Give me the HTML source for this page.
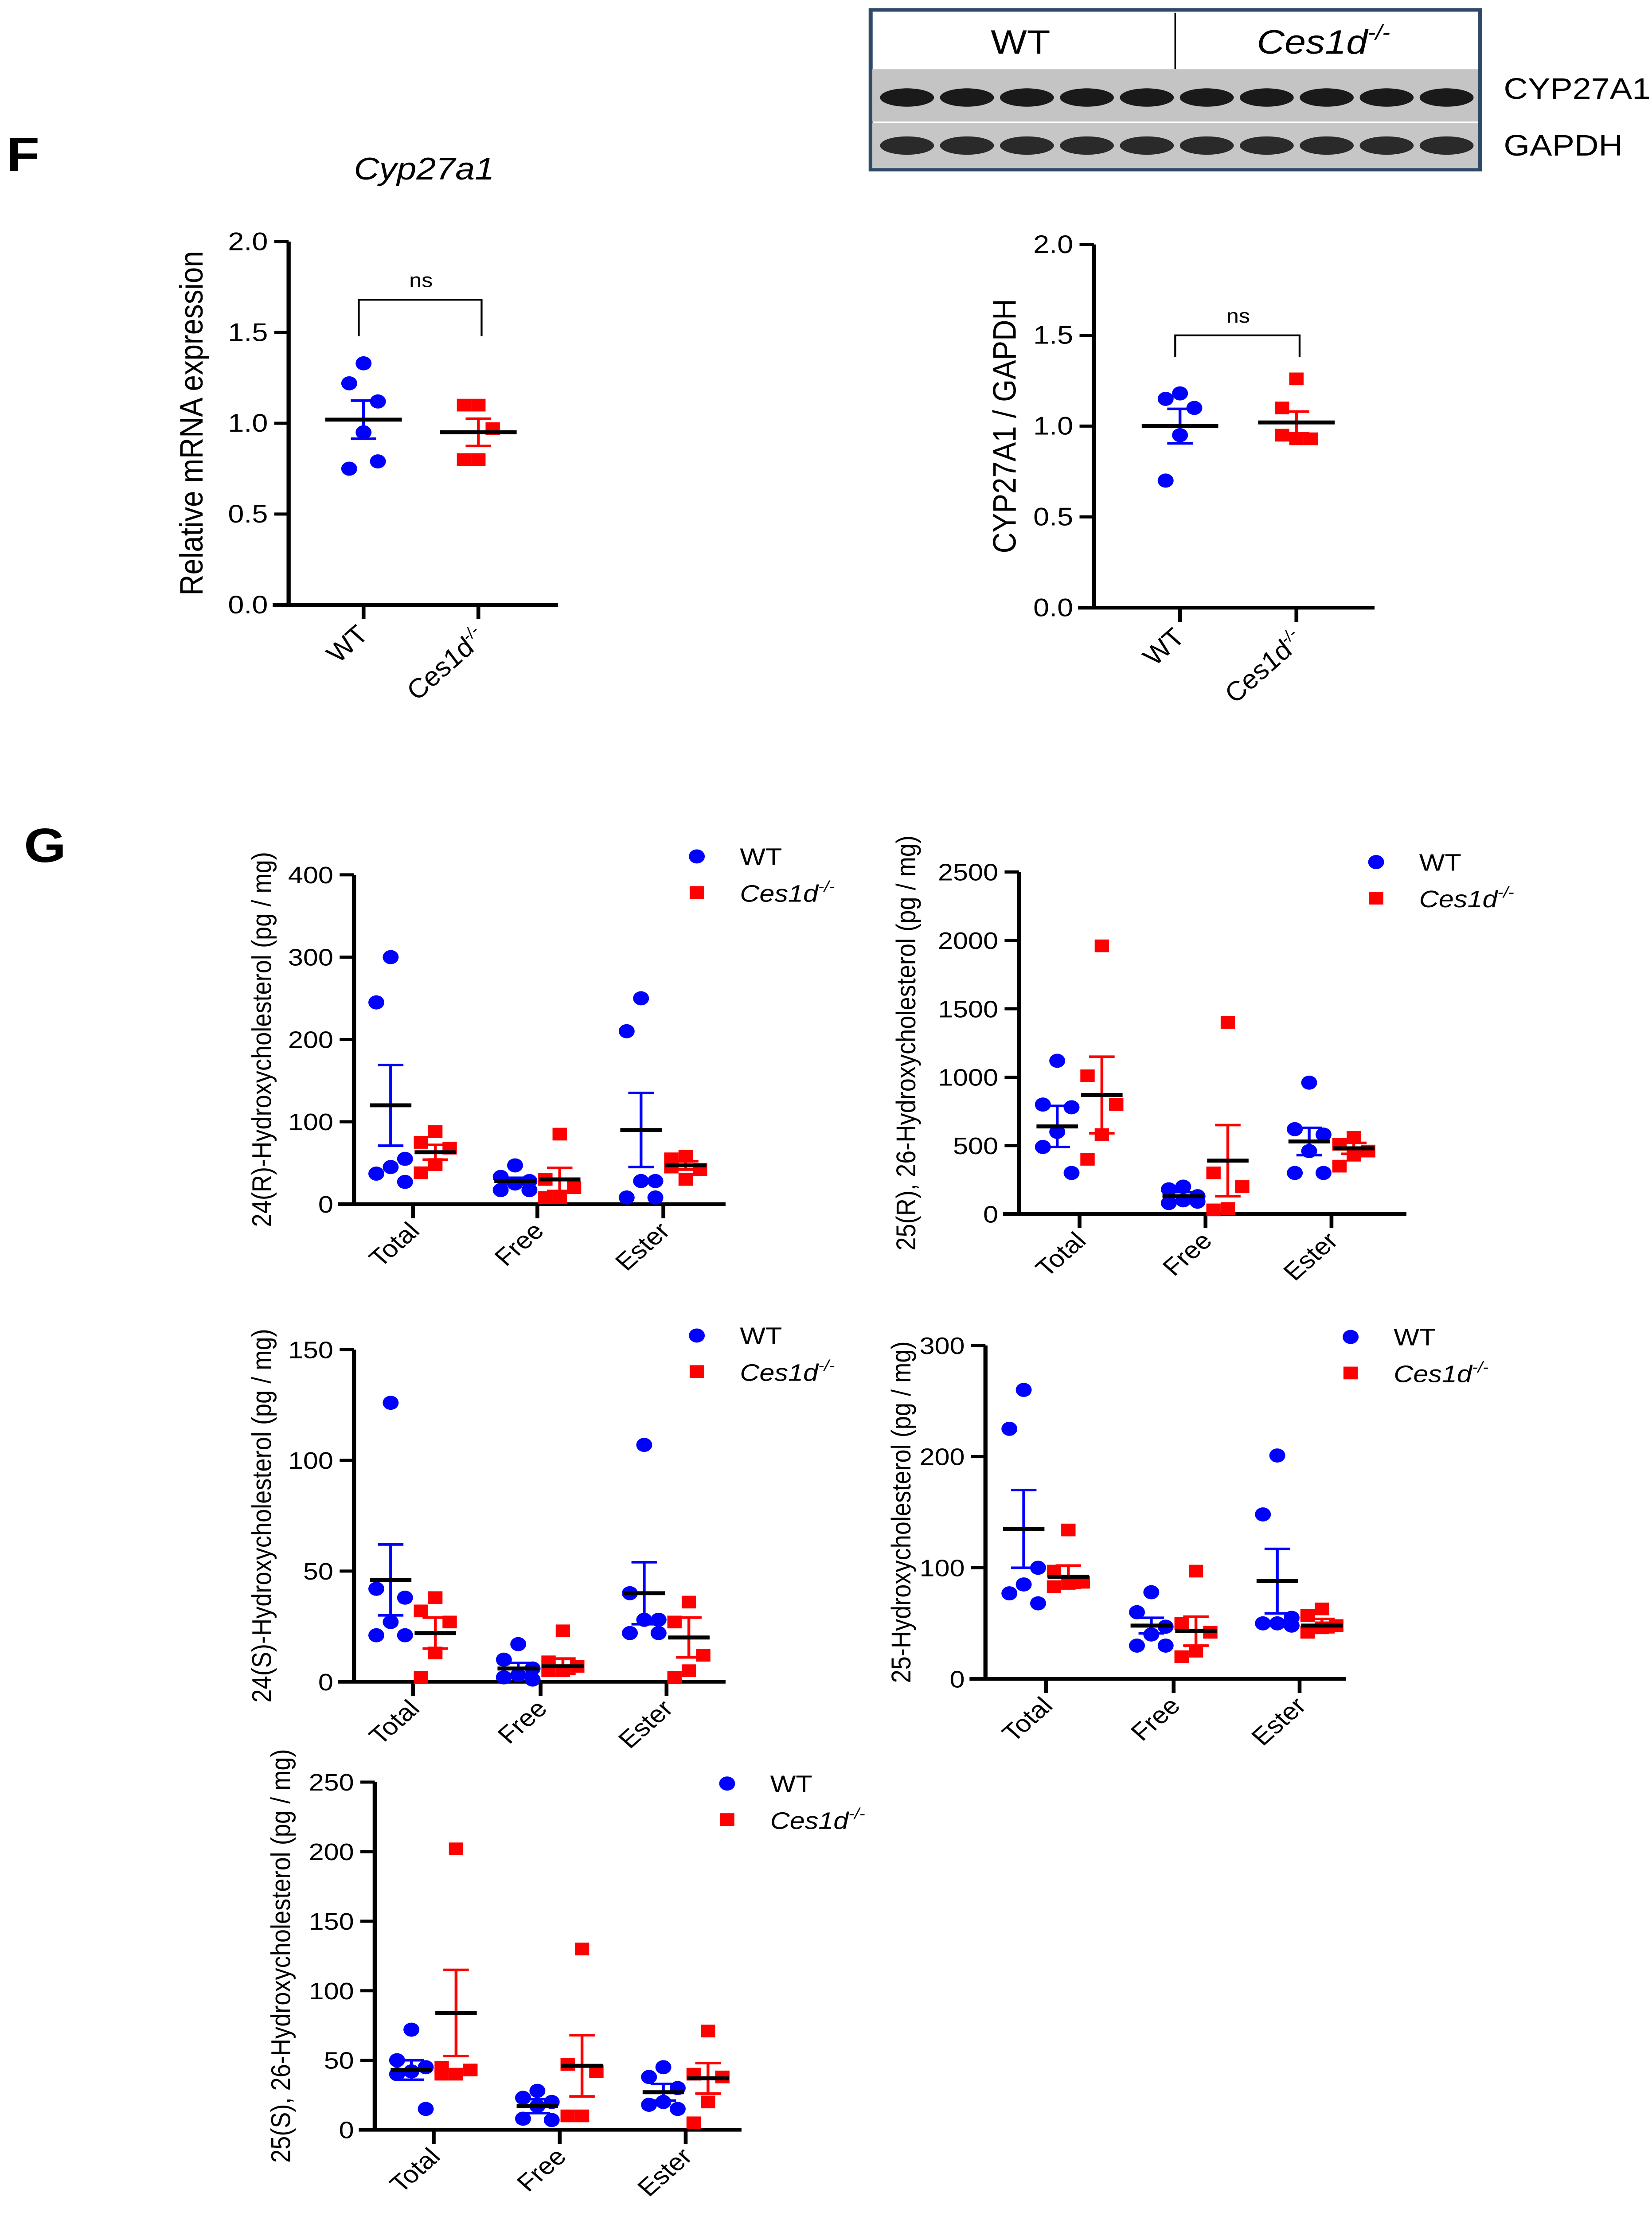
<!DOCTYPE html>
<html><head><meta charset="utf-8"><style>
html,body{margin:0;padding:0;background:#fff;width:100vw;height:100vh;overflow:hidden;}
svg{display:block;width:100vw;height:100vh;}
text{font-family:"Liberation Sans",Arial,sans-serif;}
</style></head><body>
<svg id="fig" viewBox="0 0 1036 1568" preserveAspectRatio="none" xmlns="http://www.w3.org/2000/svg">
<rect width="1036" height="1568" fill="#fff"/>
<text x="4" y="121" font-size="34" font-weight="bold">F</text>
<text x="15" y="610" font-size="34" font-weight="bold">G</text>
<text x="266" y="127" font-size="22" font-style="italic" text-anchor="middle">Cyp27a1</text>
<g id="blot"></g>
</svg>
<script>
// ---------- data ----------
const groups2 = ["WT","Ces1d-/-"];
const cats3 = ["Total","Free","Ester"];
const f1WT = [1.33,1.22,1.12,0.95,0.75,0.79];
const f1KO = [1.10,1.10,0.97,0.80,0.80];
const f1Mean = [1.02,0.95];
const f1Sem = [0.105,0.075];
const f2WT = [1.18,1.15,1.10,0.95,0.70];
const f2KO = [1.26,1.10,0.93,0.93,0.95];
const f2Mean = [1.00,1.02];
const f2Sem = [0.095,0.06];
const fTicks = [0.0,0.5,1.0,1.5,2.0];

const g1WT = [[300,245,55,45,37,27],[47,33,28,25,17,17],[250,210,28,28,8,8]];
const g1KO = [[88,75,68,48,38],[85,30,20,8,8],[58,55,42,30,45]];
const g1Mean = [[120,63],[28,30],[90,47]];
const g1Sem = [[49,9],[4,14],[45,5]];
const g1Ticks = [0,100,200,300,400];

const g2WT = [[1120,800,780,600,490,300],[200,180,130,100,80,90],[960,620,580,460,300,300]];
const g2KO = [[1960,1010,800,580,400],[1400,300,200,40,30],[560,510,460,430,350]];
const g2Mean = [[640,870],[130,390],[530,480]];
const g2Sem = [[150,280],[30,260],[100,40]];
const g2Ticks = [0,500,1000,1500,2000,2500];

const g3WT = [[126,42,38,27,21,21],[17,10,6,3,2,1],[107,40,28,28,22,22]];
const g3KO = [[38,32,27,13,2],[23,9,7,5,5],[36,27,12,5,2]];
const g3Mean = [[46,22],[6,7],[40,20]];
const g3Sem = [[16,7],[2.5,3.5],[14,9]];
const g3Ticks = [0,50,100,150];

const g4WT = [[260,225,100,85,77,68],[78,60,47,40,30,30],[201,148,55,50,50,48]];
const g4KO = [[134,97,87,86,83],[97,50,42,25,20],[63,57,48,46,42]];
const g4Mean = [[135,92],[48,43],[88,48]];
const g4Sem = [[35,10],[7,13],[29,6]];
const g4Ticks = [0,100,200,300];

const g5WT = [[72,50,45,42,40,15],[28,23,20,17,8,7],[45,38,30,20,18,15]];
const g5KO = [[202,45,43,40,40],[130,47,42,10,10],[71,40,38,20,5]];
const g5Mean = [[43,84],[17,46],[27,37]];
const g5Sem = [[7,31],[5,22],[6,11]];
const g5Ticks = [0,50,100,150,200,250];

// ---------- helpers ----------
const NS="http://www.w3.org/2000/svg";
const svg=document.getElementById('fig');
function mk(tag,attrs,parent){const e=document.createElementNS(NS,tag);for(const k in attrs)e.setAttribute(k,attrs[k]);(parent||svg).appendChild(e);return e;}
const BLUE="#0000ff", RED="#ff0000";
function jit(i){return [0,-9,9,0,-9,9][i%6];}

function drawPoints(g,arr,cx,yS,color,shape,name){
  arr.forEach((v,i)=>{
    const x=cx+jit(i), y=yS(v);
    let e;
    if(shape==='c'){e=mk('circle',{cx:x,cy:y,r:5,fill:color},g);}
    else {e=mk('rect',{x:x-4.5,y:y-4.5,width:9,height:9,fill:color},g);}
    
    
  });
}
function drawMean(g,cx,mean,sem,yS,color,w,name){
  const a=mk('line',{x1:cx,x2:cx,y1:yS(mean-sem),y2:yS(mean+sem),stroke:color,'stroke-width':1.8},g);
  
  
  [mean-sem,mean+sem].forEach(v=>{
    const c=mk('line',{x1:cx-8,x2:cx+8,y1:yS(v),y2:yS(v),stroke:color,'stroke-width':1.8},g);
    
    
  });
  const m=mk('line',{x1:cx-w,x2:cx+w,y1:yS(mean),y2:yS(mean),stroke:'#000','stroke-width':2.8},g);
  
  
}
function axes(g,c,ticks,fmt){
  const yS=v=>c.y0-(v-ticks[0])/(ticks[ticks.length-1]-ticks[0])*(c.y0-c.yTop);
  const tf=c.tickFont||17, lf=c.titleFont||17;
  const ya=mk('line',{x1:c.ax,x2:c.ax,y1:c.y0+1,y2:c.yTop,stroke:'#000','stroke-width':2.6},g);
  
  
  const xa=mk('line',{x1:c.ax-10,x2:c.xEnd,y1:c.y0,y2:c.y0,stroke:'#000','stroke-width':2.6},g);
  
  
  ticks.forEach(t=>{
    const y=yS(t);
    const tl=mk('line',{x1:c.ax-9,x2:c.ax,y1:y,y2:y,stroke:'#000','stroke-width':2.2},g);
    
    
    const tx=mk('text',{x:c.ax-13,y:y+6,'font-size':tf,'text-anchor':'end'},g);
    tx.textContent=fmt(t);
    
    
  });
  const yt=mk('text',{x:0,y:0,'font-size':lf,'text-anchor':'middle',transform:`translate(${c.labX},${(c.y0+c.yTop)/2}) rotate(-90)`},g);
  yt.textContent=c.ylabel;
  
  
  return yS;
}
function xLabel(g,x,y,txt,italic,sup,name,fs){
  const t=mk('text',{x:0,y:0,'font-size':fs||17,'text-anchor':'end',transform:`translate(${x},${y}) rotate(-45)`},g);
  if(italic){t.setAttribute('font-style','italic');}
  t.textContent=txt;
  if(sup){const s=mk('tspan',{'font-size':11,dy:-7},t);s.textContent=sup;}
  
  
}
function legend(g,x,y){
  const c=mk('circle',{cx:x,cy:y,r:5,fill:BLUE},g);
  
  
  const t=mk('text',{x:x+27,y:y+6,'font-size':17},g);t.textContent='WT';
  
  
  const r=mk('rect',{x:x-4.5,y:y+21,width:9,height:9,fill:RED},g);
  
  
  const t2=mk('text',{x:x+27,y:y+32,'font-size':17,'font-style':'italic'},g);t2.textContent='Ces1d';
  const s=mk('tspan',{'font-size':11,dy:-7},t2);s.textContent='-/-';
  
  
}

// ---------- F panels ----------
function fPanel(c,wt,ko,mean,sem,name){
  const g=mk('g',{});
  
  
  const yS=axes(g,c,fTicks,t=>t.toFixed(1));
  c.xs.forEach(x=>{
    const tk=mk('line',{x1:x,x2:x,y1:c.y0,y2:c.y0+10,stroke:'#000','stroke-width':2.4},g);
    
    
  });
  drawPoints(g,wt,c.xs[0],yS,BLUE,'c','wt');
  drawPoints(g,ko,c.xs[1],yS,RED,'s','ko');
  drawMean(g,c.xs[0],mean[0],sem[0],yS,BLUE,24,'wt');
  drawMean(g,c.xs[1],mean[1],sem[1],yS,RED,24,'ko');
  const by=yS(c.br), bb=yS(c.brEnd);
  const br=mk('path',{d:`M${c.xs[0]-3},${bb}V${by}H${c.xs[1]+2}V${bb}`,fill:'none',stroke:'#000','stroke-width':1.2},g);
  
  
  const ns=mk('text',{x:(c.xs[0]+c.xs[1])/2,y:by-9,'font-size':14,'text-anchor':'middle'},g);ns.textContent='ns';
  
  
  xLabel(g,c.xs[0]+4,c.y0+22,groups2[0],false,null,'x-label-wt',18);
  xLabel(g,c.xs[1]+6,c.y0+24,'Ces1d',true,'-/-','x-label-ko',18);
}
fPanel({ax:181,y0:428,yTop:171,xEnd:350,xs:[228,300],labX:127,tickFont:18,titleFont:20.5,ylabel:'Relative mRNA expression',br:1.68,brEnd:1.48},f1WT,f1KO,f1Mean,f1Sem,'mrna-chart');
fPanel({ax:686,y0:430,yTop:173,xEnd:862,xs:[740,813],labX:637,tickFont:18,titleFont:20.5,ylabel:'CYP27A1 / GAPDH',br:1.5,brEnd:1.38},f2WT,f2KO,f2Mean,f2Sem,'protein-chart');

// ---------- G panels ----------
function gPanel(c,ticks,wt,ko,mean,sem,name){
  const g=mk('g',{});
  
  
  const yS=axes(g,c,ticks,t=>String(t));
  cats3.forEach((cat,i)=>{
    const x=c.xs[i];
    const tk=mk('line',{x1:x,x2:x,y1:c.y0,y2:c.y0+10,stroke:'#000','stroke-width':2.4},g);
    
    
    drawPoints(g,wt[i],x-14,yS,BLUE,'c','wt-'+cat.toLowerCase());
    drawPoints(g,ko[i],x+14,yS,RED,'s','ko-'+cat.toLowerCase());
    drawMean(g,x-14,mean[i][0],sem[i][0],yS,BLUE,13,'wt-'+cat.toLowerCase());
    drawMean(g,x+14,mean[i][1],sem[i][1],yS,RED,13,'ko-'+cat.toLowerCase());
    xLabel(g,x+5,c.y0+20,cat,false,null,'x-label-'+cat.toLowerCase());
  });
  legend(g,c.leg[0],c.leg[1]);
}
gPanel({ax:222,y0:852,yTop:619,xEnd:455,xs:[259,337,416],labX:170,ylabel:'24(R)-Hydroxycholesterol (pg / mg)',leg:[437,606]},g1Ticks,g1WT,g1KO,g1Mean,g1Sem,'chart-24r');
gPanel({ax:639,y0:859,yTop:617,xEnd:882,xs:[677,756,835],labX:574,ylabel:'25(R), 26-Hydroxycholesterol (pg / mg)',leg:[863,610]},g2Ticks,g2WT,g2KO,g2Mean,g2Sem,'chart-25r26');
gPanel({ax:222,y0:1190,yTop:955,xEnd:455,xs:[259,339,418],labX:170,ylabel:'24(S)-Hydroxycholesterol (pg / mg)',leg:[437,945]},g3Ticks,g3WT,g3KO,g3Mean,g3Sem,'chart-24s');
gPanel({ax:618,y0:1188,yTop:952,xEnd:844,xs:[656,736,815],labX:571,ylabel:'25-Hydroxycholesterol (pg / mg)',leg:[847,946]},g4Ticks,g4WT,g4KO,g4Mean,g4Sem,'chart-25');
gPanel({ax:235,y0:1507,yTop:1261,xEnd:465,xs:[272,351,430],labX:182,ylabel:'25(S), 26-Hydroxycholesterol (pg / mg)',leg:[456,1262]},g5Ticks,g5WT,g5KO,g5Mean,g5Sem,'chart-25s26');

// ---------- western blot ----------
const blot=document.getElementById('blot');
const lanes=[0,1,2,3,4,5,6,7,8,9];
const bx0=546,bx1=928;
mk('rect',{x:bx0,y:7,width:bx1-bx0,height:113,fill:'#fff',stroke:'#2e4a66','stroke-width':2.5},blot);
mk('line',{x1:737,x2:737,y1:9,y2:49,stroke:'#000','stroke-width':1},blot);
const wt=mk('text',{x:640,y:38,'font-size':24,'text-anchor':'middle'},blot);wt.textContent='WT';


const ko=mk('text',{x:830,y:38,'font-size':24,'text-anchor':'middle','font-style':'italic'},blot);ko.textContent='Ces1d';
const ks=mk('tspan',{'font-size':15,dy:-10},ko);ks.textContent='-/-';


mk('rect',{x:bx0+1,y:49,width:bx1-bx0-2,height:37,fill:'#c4c4c4'},blot);
mk('rect',{x:bx0+1,y:87,width:bx1-bx0-2,height:32,fill:'#c6c6c6'},blot);
const lw=(bx1-bx0-6)/10;
lanes.forEach(i=>{
  const cx=bx0+4+lw*(i+0.5);
  const b1=mk('ellipse',{cx:cx,cy:69,rx:lw*0.45,ry:6.5,fill:'#1a1a1a'},blot);
  
  
  const b2=mk('ellipse',{cx:cx,cy:103,rx:lw*0.45,ry:6.5,fill:'#2a2a2a'},blot);
  
  
});
const l1=mk('text',{x:943,y:70,'font-size':21},svg);l1.textContent='CYP27A1';


const l2=mk('text',{x:943,y:110,'font-size':21},svg);l2.textContent='GAPDH';


</script>
</body></html>
